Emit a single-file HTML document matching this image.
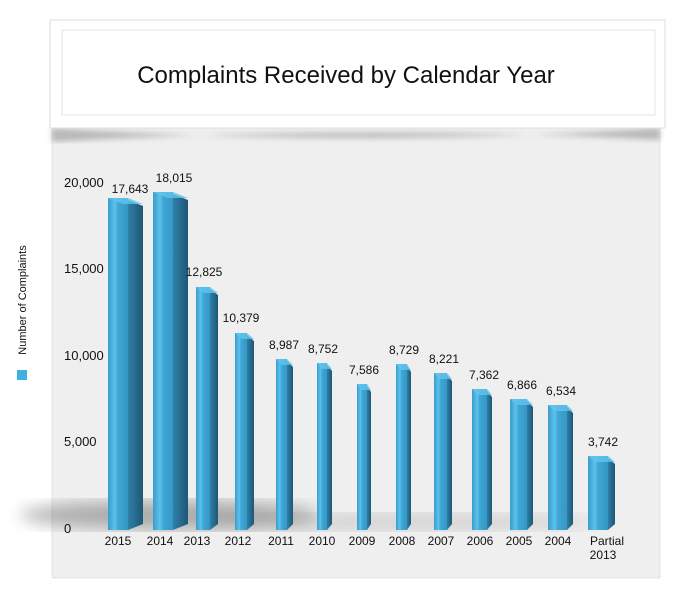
<!DOCTYPE html>
<html><head><meta charset="utf-8"><style>
body{margin:0;background:#fff;width:680px;height:604px;overflow:hidden;font-family:"Liberation Sans",sans-serif}
</style></head><body>
<svg width="680" height="604" viewBox="0 0 680 604" xmlns="http://www.w3.org/2000/svg" font-family="Liberation Sans, sans-serif">
<defs>
<linearGradient id="fr" x1="0" y1="0" x2="1" y2="0"><stop offset="0" stop-color="#3a9ccc"/><stop offset=".35" stop-color="#5cc2ec"/><stop offset=".5" stop-color="#3fa8d6"/><stop offset="1" stop-color="#3696c4"/></linearGradient>
<linearGradient id="sd" x1="0" y1="0" x2="1" y2="0"><stop offset="0" stop-color="#2f7fa8"/><stop offset="1" stop-color="#1d5775"/></linearGradient>
<filter id="bl"><feGaussianBlur stdDeviation="8"/></filter>
<filter id="bl2"><feGaussianBlur stdDeviation="3"/></filter>
</defs>
<rect x="52" y="128" width="608" height="450" fill="#efefef" stroke="#cfcfcf" stroke-dasharray="1,1"/>
<path d="M52 128 Q356 148 660 128 L660 140 Q356 124 52 142Z" fill="#777" opacity=".45" filter="url(#bl2)"/>
<rect x="50" y="20" width="615" height="108" fill="#fff" stroke="#ddd"/>
<rect x="62" y="30" width="593" height="85" fill="#fff" stroke="#e4e4e4"/>
<text x="346" y="83" font-size="24" text-anchor="middle" fill="#111">Complaints Received by Calendar Year</text>
<ellipse cx="170" cy="515" rx="150" ry="14" fill="#666" opacity=".5" filter="url(#bl)"/>
<ellipse cx="400" cy="522" rx="200" ry="8" fill="#888" opacity=".3" filter="url(#bl)"/>
<g font-size="13" fill="#111">
<text x="64" y="187">20,000</text><text x="64" y="273">15,000</text><text x="64" y="360">10,000</text><text x="64" y="446">5,000</text><text x="64" y="533">0</text>
</g>
<text transform="translate(26,300) rotate(-90)" font-size="11" text-anchor="middle" fill="#111">Number of Complaints</text>
<rect x="17" y="370" width="10" height="10" fill="#3fb0e0"/>
<script>
var d=[["2015",108,20,15,198,"17,643",130,193,118],["2014",153,20,15,192,"18,015",174,182,160],["2013",196,14,8,287,"12,825",204,276,197],["2012",235,12,7,333,"10,379",241,322,238],["2011",276,11,6,359,"8,987",284,349,281],["2010",317,10,5,363,"8,752",323,353,322],["2009",357,10,4,384,"7,586",364,374,362],["2008",396,11,4,364,"8,729",404,354,402],["2007",434,13,5,373,"8,221",444,363,441],["2006",472,15,5,389,"7,362",484,379,480],["2005",510,17,6,399,"6,866",522,389,519],["2004",548,19,6,405,"6,534",561,395,558],["Partial",588,20,7,456,"3,742",603,446,0]];
var ns="http://www.w3.org/2000/svg",svg=document.querySelector("svg");
function el(t,a,txt){var e=document.createElementNS(ns,t);for(var k in a)e.setAttribute(k,a[k]);if(txt)e.textContent=txt;svg.appendChild(e);return e;}
d.forEach(function(b){var x=b[1],w=b[2],s=b[3],t=b[4],bot=530;
el("polygon",{points:(x+w)+","+(t+2)+" "+(x+w+s)+","+(t+8)+" "+(x+w+s)+","+(bot-6)+" "+(x+w)+","+bot,fill:"url(#sd)"});
el("rect",{x:x,y:t,width:w,height:bot-t,fill:"url(#fr)"});
el("polygon",{points:x+","+t+" "+(x+w)+","+t+" "+(x+w+s)+","+(t+6)+" "+(x+s)+","+(t+6),fill:"#62c4ec",opacity:".8"});
el("text",{x:b[6],y:b[7],"font-size":"12","text-anchor":"middle",fill:"#111"},b[5]);
if(b[0]=="Partial"){el("text",{x:607,y:545,"font-size":"12","text-anchor":"middle",fill:"#111"},"Partial");el("text",{x:603,y:559,"font-size":"12","text-anchor":"middle",fill:"#111"},"2013");}
else el("text",{x:b[8],y:545,"font-size":"12","text-anchor":"middle",fill:"#111"},b[0]);
});
</script>
</svg>
</body></html>
